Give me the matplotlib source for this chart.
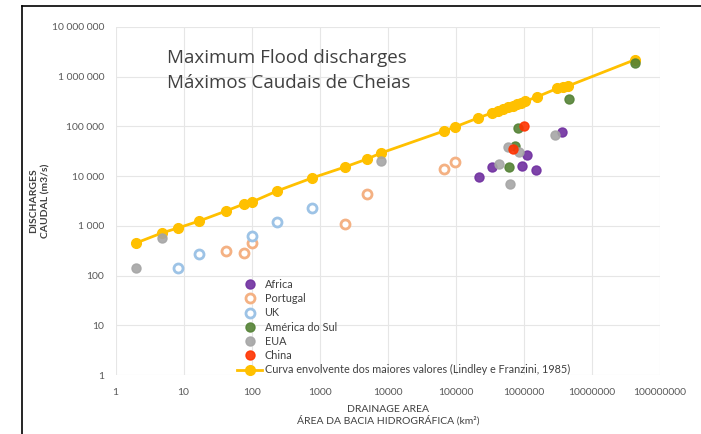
import matplotlib.pyplot as plt
from matplotlib.ticker import FixedLocator, FuncFormatter
from matplotlib.lines import Line2D

plt.rcParams['font.family'] = ['Lato', 'DejaVu Sans']

# drainage area (km2) / discharge (m3/s) per region
africa_x = [219000, 340000, 940000, 1110000, 1510000, 3630000]
africa_y = [9600, 15300, 16000, 26700, 13300, 77000]

portugal_x = [42, 77, 101, 2355, 4960, 67000, 97000]
portugal_y = [312, 285, 446, 1090, 4380, 13900, 19300]

uk_x = [8.3, 17, 101, 236, 771]
uk_y = [142, 272, 626, 1196, 2290]

sul_x = [820000, 741000, 605000, 4600000, 43000000]
sul_y = [93000, 40400, 15300, 357000, 1890000]

eua_x = [2, 4.8, 7960, 431000, 627000, 585000, 849000, 2870000]
eua_y = [142, 570, 20200, 17600, 6950, 38600, 30600, 67300]

china_x = [1000000, 693000]
china_y = [102000, 35200]

curva_x = [2, 4.8, 8.3, 17, 42, 77, 101, 236, 771, 2355, 4960, 7960,
           67000, 97000, 212000, 340000, 417000, 494000, 585000, 693000,
           793000, 908000, 1040000, 1550000, 3080000, 3760000, 4450000, 43000000]
curva_y = [452, 720, 908, 1253, 1992, 2755, 3020, 5030, 9180, 15300, 22100, 29200,
           81000, 97500, 148000, 187000, 205000, 222000, 241000, 262000,
           280000, 299000, 320000, 392000, 580000, 620000, 650000, 2200000]

y_ticks = [1, 10, 100, 1000, 10000, 100000, 1000000, 10000000]
x_ticks = [1, 10, 100, 1000, 10000, 100000, 1000000, 10000000, 100000000]

fig = plt.figure(figsize=(7.01, 4.34), dpi=100)
ax = fig.add_axes([0.1648, 0.1359, 0.7767, 0.8019])

ax.plot(curva_x, curva_y, color='#FFC000', lw=2, marker='o', ms=7,
        zorder=3, label='Curva envolvente dos maiores valores (Lindley e Franzini, 1985)')

ms = 6.5
ax.plot(africa_x, africa_y, 'o', color='#7030A0', ms=ms, alpha=0.9, zorder=4, label='Africa')
ax.plot(portugal_x, portugal_y, 'o', mfc='white', mec='#F4B183', mew=2, ms=ms, zorder=4, label='Portugal')
ax.plot(uk_x, uk_y, 'o', mfc='white', mec='#9DC3E6', mew=2, ms=ms, zorder=4, label='UK')
ax.plot(sul_x, sul_y, 'o', color='#548235', ms=ms, alpha=0.9, zorder=4, label='América do Sul')
ax.plot(eua_x, eua_y, 'o', color='#A5A5A5', ms=ms, alpha=0.9, zorder=4, label='EUA')
ax.plot(china_x, china_y, 'o', color='#FF3300', ms=ms, alpha=0.9, zorder=5, label='China')

ax.set_xscale('log')
ax.set_yscale('log')
ax.set_xlim(1, 1e8)
ax.set_ylim(1, 1e7)
ax.xaxis.set_major_locator(FixedLocator(x_ticks))
ax.yaxis.set_major_locator(FixedLocator(y_ticks))
ax.xaxis.set_minor_locator(FixedLocator([]))
ax.yaxis.set_minor_locator(FixedLocator([]))
ax.xaxis.set_major_formatter(FuncFormatter(lambda v, p: '%d' % v))
ax.yaxis.set_major_formatter(FuncFormatter(lambda v, p: '{:,}'.format(int(v)).replace(',', ' ')))
ax.tick_params(length=0, labelsize=7.5, labelcolor='#595959')
ax.tick_params(axis='y', pad=8)
ax.tick_params(axis='x', pad=9)
ax.grid(True, color='#E6E6E6', lw=0.8)
ax.set_axisbelow(True)
for s in ax.spines.values():
    s.set_visible(False)

ax.set_xlabel('DRAINAGE AREA\nÁREA DA BACIA HIDROGRÁFICA (km²)', fontsize=7.5,
              color='#404040', labelpad=6)
fig.text(40 / 701, 1 - 201 / 434, 'DISCHARGES\nCAUDAL (m3/s)', rotation=90,
         fontsize=7.5, color='#404040', fontweight='bold', ha='center', va='center',
         multialignment='center', linespacing=1.5)

fig.text(167 / 701, 1 - 58 / 434, 'Maximum Flood discharges', fontsize=13.5,
         family='Open Sans', color='#404040', va='center', ha='left')
fig.text(167 / 701, 1 - 83 / 434, 'Máximos Caudais de Cheias', fontsize=13.5,
         family='Open Sans', color='#404040', va='center', ha='left')

handles, labels = ax.get_legend_handles_labels()
order = [1, 2, 3, 4, 5, 6, 0]
ax.legend([handles[i] for i in order], [labels[i] for i in order],
          loc='upper left', bbox_to_anchor=(0.214, 0.292), frameon=False,
          fontsize=7.8, labelcolor='#404040', borderpad=0, labelspacing=0.3,
          handlelength=2.3, handletextpad=0.2)

# outer frame (left and top edges)
fig.add_artist(Line2D([22 / 701, 22 / 701], [0, 1 - 6 / 434], color='black', lw=1.2,
                      transform=fig.transFigure))
fig.add_artist(Line2D([22 / 701, 1], [1 - 6 / 434, 1 - 6 / 434], color='black', lw=1.2,
                      transform=fig.transFigure))

fig.savefig('out.png', dpi=100)
